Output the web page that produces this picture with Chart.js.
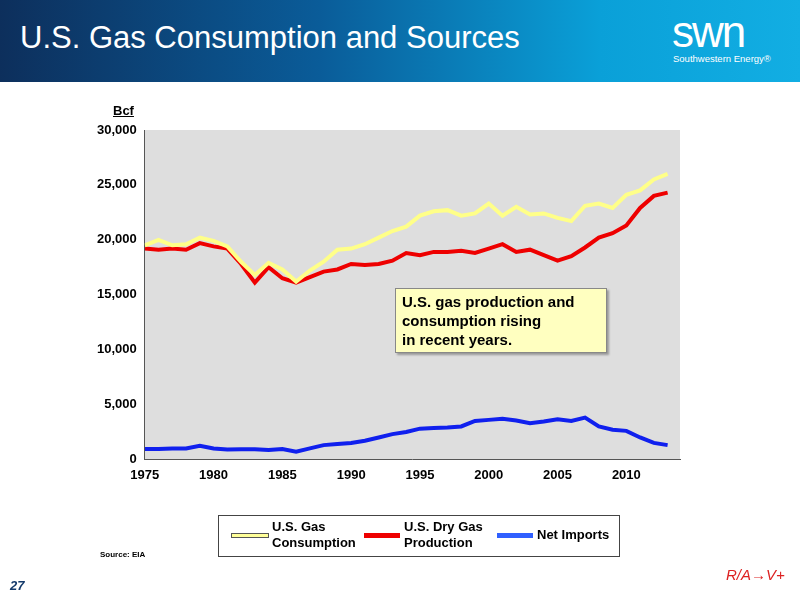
<!DOCTYPE html>
<html>
<head>
<meta charset="utf-8">
<script src="https://cdn.jsdelivr.net/npm/chart.js@4"></script>
<style>
  body { margin: 0; width: 800px; height: 600px; position: relative; overflow: hidden; background: #fff; font-family: "Liberation Sans", Arial, sans-serif; }
  #chart-box { position: absolute; left: 0; top: 0; width: 800px; height: 600px; }
  #header { position: absolute; left: 0; top: 0; width: 800px; height: 82px; background: linear-gradient(90deg, #0d2f5c 0%, #0a5c99 40%, #0aa0d8 75%, #12aee3 100%); }
  #title { position: absolute; left: 20px; top: 20px; color: #fff; font-size: 31px; }
  #logo { position: absolute; left: 672px; top: 12px; color: #fff; font-size: 44px; letter-spacing: -2px; line-height: 40px; }
  #logo-sub { position: absolute; left: 673px; top: 53px; color: #fff; font-size: 9.5px; }
  #note { position: absolute; left: 395px; top: 288px; width: 198px; padding: 3px 6px; background: #ffffc0; border: 1px solid #888; font-weight: bold; font-size: 15px; line-height: 19px; box-shadow: 2px 2px 2px #999; }
  #legend { position: absolute; left: 218px; top: 515px; width: 400px; height: 40px; border: 1px solid #444; font-weight: bold; font-size: 13px; }
  .item { position: absolute; top: 3px; line-height: 16px; }
  .sw { position: absolute; top: 17px; width: 36px; height: 5px; }
  #unit { position: absolute; left: 113px; top: 103px; font-weight: bold; font-size: 13px; text-decoration: underline; }
  #source { position: absolute; left: 100px; top: 550px; font-size: 8px; font-weight: bold; }
  #page { position: absolute; left: 10px; top: 578px; font-size: 13px; font-style: italic; font-weight: bold; color: #143a6b; }
  #mark { position: absolute; left: 726px; top: 566px; color: #d22; font-size: 15px; font-style: italic; }
</style>
</head>
<body>
<div id="chart-box"><canvas id="chart" width="800" height="600"></canvas></div>
<div id="header"><div id="title">U.S. Gas Consumption and Sources</div>
<div id="logo">swn</div><div id="logo-sub">Southwestern Energy®</div></div>
<div id="unit">Bcf</div>
<div id="note">U.S. gas production and<br>consumption rising<br>in recent years.</div>
<div id="legend">
  <div class="sw" style="left:12px;background:#ffff99;border:1px solid #555;height:3px"></div>
  <div class="item" style="left:53px">U.S. Gas<br>Consumption</div>
  <div class="sw" style="left:145px;background:#ee0000"></div>
  <div class="item" style="left:185px">U.S. Dry Gas<br>Production</div>
  <div class="sw" style="left:278px;background:#3060ff"></div>
  <div class="item" style="left:318px;top:11px">Net Imports</div>
</div>
<div id="source">Source: EIA</div>
<div id="page">27</div>
<div id="mark">R/A→V+</div>
<script>
const years = [];
for (let y = 1975; y <= 2013; y++) years.push(y);
const consumption = [19500, 20000, 19500, 19600, 20200, 19900, 19400, 18000, 16800, 17900, 17300, 16200, 17200, 18000, 19100, 19200, 19600, 20200, 20800, 21200, 22200, 22600, 22700, 22200, 22400, 23300, 22200, 23000, 22300, 22400, 22000, 21700, 23100, 23300, 22900, 24100, 24500, 25500, 26000];
const production = [19200, 19100, 19200, 19100, 19700, 19400, 19200, 17800, 16100, 17500, 16500, 16100, 16600, 17100, 17300, 17800, 17700, 17800, 18100, 18800, 18600, 18900, 18900, 19000, 18800, 19200, 19600, 18900, 19100, 18600, 18100, 18500, 19300, 20200, 20600, 21300, 22900, 24000, 24300];
const imports = [950, 950, 1000, 1000, 1250, 1000, 900, 930, 920, 850, 950, 700, 1000, 1300, 1400, 1500, 1700, 2000, 2300, 2500, 2800, 2850, 2900, 3000, 3500, 3600, 3700, 3550, 3300, 3450, 3650, 3500, 3800, 3000, 2700, 2600, 2000, 1500, 1300];

const toPts = (arr) => arr.map((v, i) => ({ x: years[i], y: v }));

const plotBg = {
  id: "plotBg",
  beforeDraw(chart) {
    const a = chart.chartArea, c = chart.ctx;
    c.save();
    c.fillStyle = "#dedede";
    c.fillRect(a.left, a.top, a.right - a.left, a.bottom - a.top);
    c.restore();
  }
};

new Chart(document.getElementById("chart"), {
  type: "line",
  data: {
    datasets: [
      { label: "U.S. Gas Consumption", data: toPts(consumption), borderColor: "#ffff88", borderWidth: 4, pointRadius: 0, tension: 0 },
      { label: "U.S. Dry Gas Production", data: toPts(production), borderColor: "#ee0000", borderWidth: 4, pointRadius: 0, tension: 0 },
      { label: "Net Imports", data: toPts(imports), borderColor: "#1020ee", borderWidth: 4, pointRadius: 0, tension: 0 }
    ]
  },
  options: {
    responsive: false,
    animation: false,
    layout: { padding: { left: 94, top: 130, right: 120, bottom: 114 } },
    plugins: { legend: { display: false }, tooltip: { enabled: false } },
    scales: {
      x: {
        type: "linear", min: 1975, max: 2013.9,
        afterBuildTicks: (s) => { s.ticks = [1975, 1980, 1985, 1990, 1995, 2000, 2005, 2010].map(v => ({ value: v })); },
        grid: { display: false, drawTicks: true, tickLength: 5, color: "#555" },
        border: { color: "#555" },
        ticks: { color: "#000", font: { weight: "bold", size: 13, family: "Liberation Sans" }, maxRotation: 0, callback: (v) => String(v) }
      },
      y: {
        min: 0, max: 30000,
        ticks: { stepSize: 5000, color: "#000", font: { weight: "bold", size: 13, family: "Liberation Sans" }, callback: (v) => v.toLocaleString("en-US") },
        grid: { display: false, drawTicks: true, tickLength: 5 },
        border: { color: "#555" }
      }
    }
  },
  plugins: [plotBg]
});
</script>
</body>
</html>
